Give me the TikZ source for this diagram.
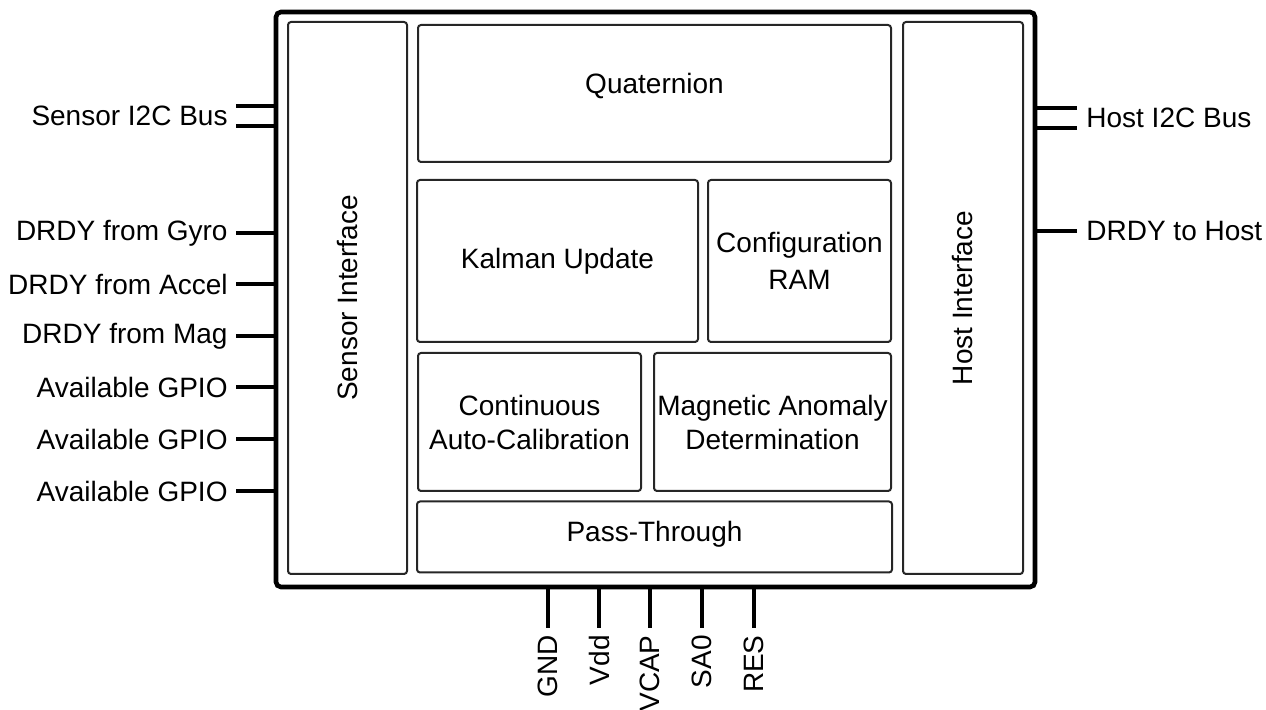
\documentclass[tikz,border=0pt]{standalone}
\usepackage{fontspec}
\setmainfont{Liberation Sans}
\begin{document}
\begin{tikzpicture}[x=0.5pt,y=-0.5pt,
  blk/.style={draw=black!85,line width=1pt,rounded corners=1.5pt,inner sep=0pt,align=center,font=\fontsize{14}{17}\selectfont},
  chipbox/.style={draw=black,line width=2.3pt,rounded corners=2.5pt,inner sep=0pt},
  pinline/.style={line width=2pt},
  lbl/.style={inner sep=0pt,font=\fontsize{14}{17}\selectfont}]
\useasboundingbox (0,0) rectangle (1266,710);
% chip outline
\node[chipbox,minimum width=379.5pt,minimum height=287.5pt] (chip) at (655.5,299.5) {};
% blocks
\node[blk,minimum width=59.5pt,minimum height=276pt] (sens) at (347.5,298) {};
\node[lbl,rotate=90] at (sens.center) {Sensor Interface};
\node[blk,minimum width=60pt,minimum height=276pt] (host) at (963,298) {};
\node[lbl,rotate=90] at (host.center) {Host Interface};
\node[blk,minimum width=236.5pt,minimum height=68.5pt] (quat) at (654.5,93.5) {};
\node[lbl] at ([yshift=3.5pt]quat.center) {Quaternion};
\node[blk,minimum width=140.5pt,minimum height=81pt] (kal) at (557.5,261) {Kalman Update};
\node[blk,minimum width=91.5pt,minimum height=81pt,font=\fontsize{14}{18.5}\selectfont] (cfg) at (799.5,261) {Configuration\\RAM};
\node[blk,minimum width=111.5pt,minimum height=69pt] (cal) at (529.5,422) {Continuous\\Auto-Calibration};
\node[blk,minimum width=118.5pt,minimum height=69pt] (mag) at (772.5,422) {Magnetic Anomaly\\Determination};
\node[blk,minimum width=237.5pt,minimum height=35.5pt] (pass) at (654.5,537) {};
\node[lbl] at ([yshift=1.5pt]pass.center) {Pass-Through};
% left pins
\node[lbl,anchor=east] (si2c) at (228,116) {Sensor I2C Bus};
\coordinate (si2ca) at (236,106);
\coordinate (si2cb) at (236,126);
\draw[pinline] (si2ca) -- (chip.west |- si2ca);
\draw[pinline] (si2cb) -- (chip.west |- si2cb);
\foreach \nm/\yy/\tx in {gyro/233/DRDY from Gyro, acc/284/DRDY from Accel, mg/336/DRDY from Mag, g1/387/Available GPIO, g2/439/Available GPIO, g3/491/Available GPIO}{
  \node[lbl,anchor=east] (\nm) at (228,\yy) {\tx};
  \draw[pinline] ([xshift=4pt]\nm.east) -- (chip.west |- \nm.east);
}
% right pins
\node[lbl,anchor=west] (hi2c) at (1086,118) {Host I2C Bus};
\coordinate (hi2ca) at (1077,108);
\coordinate (hi2cb) at (1077,128);
\draw[pinline] (hi2ca) -- (chip.east |- hi2ca);
\draw[pinline] (hi2cb) -- (chip.east |- hi2cb);
\node[lbl,anchor=west] (drh) at (1086,231) {DRDY to Host};
\draw[pinline] ([xshift=-4.5pt]drh.west) -- (chip.east |- drh.west);
% bottom pins
\foreach \nm/\xx/\tx in {gnd/548/GND, vdd/599/Vdd, vcap/650/VCAP, sa/702/SA0, res/754/RES}{
  \node[lbl,rotate=90,anchor=east] (\nm) at (\xx,635) {\tx};
  \coordinate (\nm t) at (\xx,628);
  \draw[pinline] (\nm t) -- (chip.south -| \nm t);
}
\end{tikzpicture}
\end{document}
